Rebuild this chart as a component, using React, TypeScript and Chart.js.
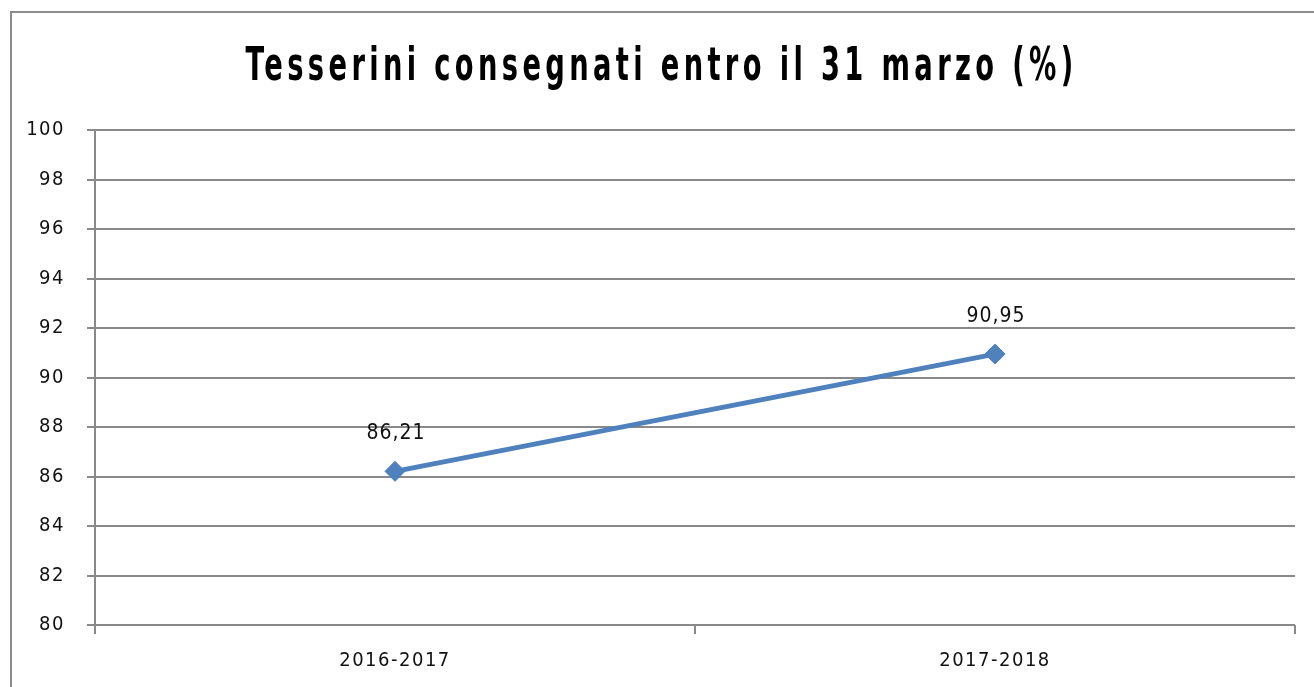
import React, { useEffect, useRef } from 'react';
import { Chart, registerables } from 'chart.js';

Chart.register(...registerables);

const categories = ['2016-2017', '2017-2018'];
const values = [86.21, 90.95];
const titleText = 'Tesserini consegnati entro il 31 marzo (%)';
const yMin = 80;
const yMax = 100;
const yStep = 2;

const NARROW = "'Liberation Sans Narrow', 'DejaVu Sans Condensed', 'Arial Narrow', sans-serif";
const TICK_SPACING = '1.5px';
const TITLE_SPACING = '6.6px';
const TITLE_SCALE = 0.66;
const TITLE_SHIFT = 9;
const GRID = '#898989';
const LINE = '#4F81BD';

const spacingPlugin = {
  id: 'spacing',
  beforeLayout(chart: any) {
    chart.ctx.letterSpacing = TICK_SPACING;
  },
  beforeDraw(chart: any) {
    chart.ctx.letterSpacing = TICK_SPACING;
    const tb = chart.titleBlock;
    if (tb && !tb.__wrapped) {
      const orig = tb.draw.bind(tb);
      tb.draw = () => {
        const ctx = chart.ctx;
        ctx.save();
        ctx.letterSpacing = TITLE_SPACING;
        const cx = (tb.left + tb.right) / 2;
        ctx.translate(cx + TITLE_SHIFT, 0);
        ctx.scale(TITLE_SCALE, 1);
        ctx.translate(-cx, 0);
        orig();
        ctx.restore();
      };
      tb.__wrapped = true;
    }
  },
};

const dataLabelPlugin = {
  id: 'dataLabels',
  afterDatasetsDraw(chart: any) {
    const ctx = chart.ctx;
    const meta = chart.getDatasetMeta(0);
    ctx.save();
    ctx.letterSpacing = '1px';
    ctx.font = `21px ${NARROW}`;
    ctx.fillStyle = '#111';
    ctx.textAlign = 'center';
    ctx.textBaseline = 'middle';
    meta.data.forEach((pt: any, i: number) => {
      const label = values[i].toFixed(2).replace('.', ',');
      ctx.fillText(label, pt.x + 1, pt.y - 38);
    });
    ctx.restore();
  },
};

export default function App() {
  const ref = useRef<HTMLCanvasElement | null>(null);

  useEffect(() => {
    document.body.style.margin = '0';
    document.body.style.overflow = 'hidden';
    const canvas = ref.current;
    if (!canvas) return;
    const chart = new Chart(canvas, {
      type: 'line',
      data: {
        labels: categories,
        datasets: [
          {
            data: values,
            borderColor: LINE,
            backgroundColor: LINE,
            borderWidth: 5,
            pointStyle: 'rectRot',
            pointRadius: 10,
            pointBorderWidth: 1,
            pointBackgroundColor: LINE,
            pointBorderColor: LINE,
            tension: 0,
          },
        ],
      },
      options: {
        responsive: false,
        animation: false,
        devicePixelRatio: 1,
        layout: { padding: { left: 10, right: 19, top: 0, bottom: 14 } },
        plugins: {
          legend: { display: false },
          tooltip: { enabled: false },
          title: {
            display: true,
            text: titleText,
            color: '#000',
            font: { family: NARROW, size: 46, weight: 'bold', lineHeight: 1.2 },
            padding: { top: 40, bottom: 35 },
          },
        },
        scales: {
          x: {
            offset: true,
            afterFit: (s: any) => {
              s.height = 48;
            },
            grid: {
              display: true,
              offset: true,
              drawOnChartArea: false,
              drawTicks: true,
              tickLength: 9,
              color: GRID,
              lineWidth: 2,
            },
            border: { display: false },
            ticks: {
              color: '#111',
              padding: 15,
              font: { family: NARROW, size: 20 },
              maxRotation: 0,
            },
          },
          y: {
            min: yMin,
            max: yMax,
            afterFit: (s: any) => {
              s.width = 85;
            },
            grid: {
              color: GRID,
              lineWidth: 2,
              tickLength: 8,
              drawTicks: true,
            },
            border: { display: true, color: GRID, width: 2 },
            ticks: {
              stepSize: yStep,
              color: '#111',
              padding: 22,
              font: { family: NARROW, size: 20 },
            },
          },
        },
      },
      plugins: [spacingPlugin, dataLabelPlugin],
    });
    return () => chart.destroy();
  }, []);

  return (
    <div>
      <canvas
        ref={ref}
        width={1314}
        height={687}
        style={{ position: 'fixed', left: 0, top: 0, width: 1314, height: 687, display: 'block' }}
      />
      <div
        style={{
          position: 'fixed',
          left: 10,
          top: 11,
          width: 1310,
          height: 690,
          border: '2px solid #8c8c8c',
          pointerEvents: 'none',
        }}
      />
    </div>
  );
}
